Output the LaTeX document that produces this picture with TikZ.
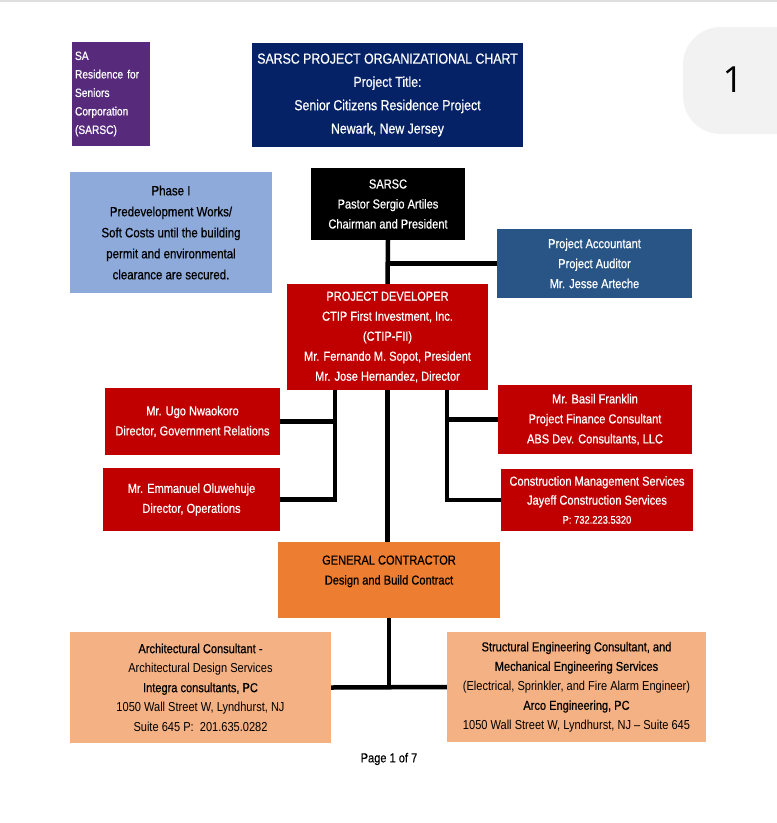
\documentclass[tikz,border=0pt]{standalone}
\usepackage{fontspec}
\setmainfont{Liberation Sans}[FakeStretch=0.85,FakeBold=0.6]
\newfontfamily\lightfont{Liberation Sans}[FakeStretch=0.85,Ligatures=TeX]
\newfontfamily\tabfont{Open Sans}

\definecolor{sapurple}{RGB}{88,42,124}
\definecolor{titlenavy}{RGB}{6,34,102}
\definecolor{phaseblue}{RGB}{142,170,219}
\definecolor{acctblue}{RGB}{40,84,134}
\definecolor{devred}{RGB}{192,0,0}
\definecolor{gcorange}{RGB}{237,125,49}
\definecolor{peach}{RGB}{244,177,131}
\definecolor{tabgray}{RGB}{242,242,242}

\tikzset{
  orgbox/.style={inner sep=0pt,align=center,text=white,
    font=\fontsize{13}{20}\selectfont},
  redbox/.style={orgbox,fill=devred},
  peachbox/.style={orgbox,fill=peach,text=black,font=\fontsize{13}{19.5}\selectfont},
  conn/.style={line width=4.5pt}
}

\begin{document}
\begin{tikzpicture}[x=1pt,y=-1pt]
  \useasboundingbox[fill=white] (0,0) rectangle (777,823);
  \draw[gray!25,line width=1.5pt] (0,1) -- (777,1);
  \begin{scope}
    \clip (0,0) rectangle (777,823);
    \fill[tabgray,rounded corners=38pt] (683,27) rectangle (830,134);
  \end{scope}
  \node[font=\tabfont\fontsize{36}{36}\selectfont] (pagenum) at (733,80) {1};

  % header
  \node[orgbox,fill=sapurple,minimum width=78,minimum height=104,
    align=left,text width=72,font=\fontsize{12}{18.5}\selectfont]
    (sa) at (111,94) {SA\\Residence for\\Seniors\\Corporation\\(SARSC)};
  \node[orgbox,fill=titlenavy,minimum width=271,minimum height=104,
    font=\fontsize{14.5}{23.3}\selectfont] (title) at (387.5,95)
    {SARSC PROJECT ORGANIZATIONAL CHART\\Project Title:\\Senior Citizens Residence Project\\Newark, New Jersey};

  % top level
  \node[orgbox,fill=phaseblue,text=black,minimum width=202,minimum height=121,
    font=\fontsize{13.5}{21}\selectfont] (phase) at (171,232.5)
    {Phase I\\Predevelopment Works/\\Soft Costs until the building\\permit and environmental\\clearance are secured.};
  \node[orgbox,fill=black,minimum width=154,minimum height=72] (sarsc) at (388,204)
    {SARSC\\Pastor Sergio Artiles\\Chairman and President};
  \node[orgbox,fill=acctblue,minimum width=195,minimum height=69] (acct) at (594.5,263.5)
    {Project Accountant\\Project Auditor\\Mr. Jesse Arteche};

  % developer and staff
  \node[redbox,minimum width=201,minimum height=106] (dev) at (387.5,337)
    {PROJECT DEVELOPER\\CTIP First Investment, Inc.\\(CTIP-FII)\\Mr. Fernando M. Sopot, President\\Mr. Jose Hernandez, Director};
  \node[redbox,minimum width=175,minimum height=67] (ugo) at (192.5,421.5)
    {Mr. Ugo Nwaokoro\\Director, Government Relations};
  \node[redbox,minimum width=177,minimum height=63] (emm) at (191.5,499.5)
    {Mr. Emmanuel Oluwehuje\\Director, Operations};
  \node[redbox,minimum width=194,minimum height=69] (basil) at (595,419.5)
    {Mr. Basil Franklin\\Project Finance Consultant\\ABS Dev. Consultants, LLC};
  \node[redbox,minimum width=192,minimum height=62,
    font=\fontsize{13}{19}\selectfont] (cms) at (597,500)
    {Construction Management Services\\Jayeff Construction Services\\{\fontsize{11}{19}\selectfont P: 732.223.5320}};

  % contractor level
  \node[orgbox,fill=gcorange,text=black,minimum width=222,minimum height=76] (gc) at (389,580)
    {GENERAL CONTRACTOR\\Design and Build Contract\\~};
  \node[peachbox,minimum width=261,minimum height=111] (arch) at (200.5,687.5)
    {Architectural Consultant -\\{\lightfont Architectural Design Services}\\Integra consultants, PC\\{\lightfont 1050 Wall Street W, Lyndhurst, NJ}\\{\lightfont Suite 645 P:\ \ 201.635.0282}};
  \node[peachbox,minimum width=259,minimum height=110] (struct) at (576.5,687)
    {Structural Engineering Consultant, and\\Mechanical Engineering Services\\{\lightfont (Electrical, Sprinkler, and Fire Alarm Engineer)}\\Arco Engineering, PC\\{\lightfont 1050 Wall Street W, Lyndhurst, NJ – Suite 645}};

  \node[font=\fontsize{13}{14}\selectfont] (footer) at (389,759) {Page 1 of 7};

  % connectors
  \coordinate (ldrop) at (335,390);
  \coordinate (rdrop) at (447,390);
  \draw[conn] (sarsc.south) -- (dev.north);
  \draw[conn] (acct.west) -- (acct.west -| sarsc.south);
  \draw[conn] (dev.south) -- (dev.south |- gc.north);
  \draw[conn] (ugo.east) -- (ugo.east -| ldrop);
  \draw[conn] (emm.east) -| (ldrop);
  \draw[conn] (basil.west) -- (basil.west -| rdrop);
  \draw[conn] (cms.west) -| (rdrop);
  \draw[conn] (gc.south) -- (gc.south |- arch.east);
  \draw[conn] (arch.east) -- (struct.west);
\end{tikzpicture}
\end{document}
